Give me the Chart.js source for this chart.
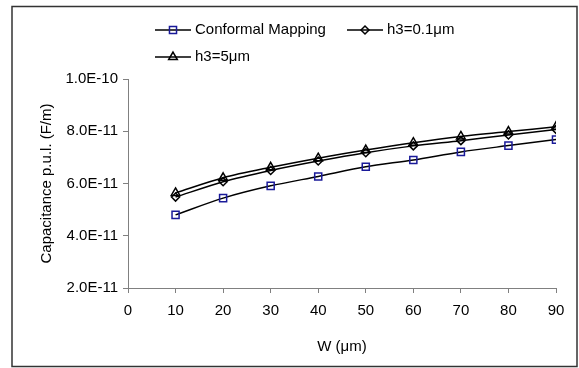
<!DOCTYPE html>
<html>
<head>
<meta charset="utf-8">
<script src="https://cdn.jsdelivr.net/npm/chart.js@4.4.0/dist/chart.umd.min.js"></script>
<style>
  html, body { margin: 0; padding: 0; background: #fff; }
</style>
</head>
<body>
<canvas id="capChart" width="579" height="368"></canvas>
<script>
// W (um)
const widths = [10, 20, 30, 40, 50, 60, 70, 80, 90];
// capacitance per unit length, in units of 1e-11 F/m
const conformal = [4.80, 5.44, 5.91, 6.27, 6.64, 6.90, 7.21, 7.45, 7.68];
const h3Thin = [5.48, 6.07, 6.50, 6.86, 7.18, 7.44, 7.64, 7.86, 8.07];
const h3Thick = [5.64, 6.22, 6.62, 6.97, 7.28, 7.56, 7.80, 7.99, 8.17];

const xTickValues = [0, 10, 20, 30, 40, 50, 60, 70, 80, 90];
const yTickValues = [2e-11, 4e-11, 6e-11, 8e-11, 1e-10];

const toPoints = arr => arr.map((v, i) => ({ x: widths[i], y: v * 1e-11 }));

Chart.defaults.font.family = '"Liberation Sans", Arial, sans-serif';
Chart.defaults.font.size = 15;
Chart.defaults.color = '#000';

// outer frame + Excel-like legend (line with marker in the middle)
const frameLegend = {
  id: 'frameLegend',
  afterDraw(chart) {
    const ctx = chart.ctx;
    ctx.save();
    ctx.strokeStyle = '#333';
    ctx.lineWidth = 1.5;
    ctx.strokeRect(12, 6.5, 565, 360);

    const spots = [[155, 30], [347, 30], [155, 57]];
    chart.data.datasets.forEach((ds, i) => {
      const [x, y] = spots[i];
      ctx.strokeStyle = '#000';
      ctx.lineWidth = 1.5;
      ctx.beginPath();
      ctx.moveTo(x, y);
      ctx.lineTo(x + 36, y);
      ctx.stroke();
      ctx.strokeStyle = ds.pointBorderColor;
      ctx.fillStyle = 'rgba(0,0,0,0)';
      Chart.helpers.drawPoint(ctx, {
        pointStyle: ds.pointStyle, radius: ds.pointRadius, borderWidth: 1.5, rotation: 0
      }, x + 18, y);
      ctx.fillStyle = '#000';
      ctx.font = '15px "Liberation Sans", Arial, sans-serif';
      ctx.textBaseline = 'middle';
      ctx.fillText(ds.label, x + 40, y);
    });
    ctx.restore();
  }
};

const ctx = document.getElementById('capChart').getContext('2d');

const capChart = new Chart(ctx, {
  type: 'line',
  data: {
    datasets: [{
      label: 'Conformal Mapping',
      data: toPoints(conformal),
      borderColor: '#000',
      borderWidth: 1.5,
      pointStyle: 'rect',
      pointRadius: 5,
      pointBorderColor: '#1a1a99',
      pointBackgroundColor: 'rgba(0,0,0,0)',
      pointBorderWidth: 1.5,
      tension: 0.3
    }, {
      label: 'h3=0.1μm',
      data: toPoints(h3Thin),
      borderColor: '#000',
      borderWidth: 1.5,
      pointStyle: 'rectRot',
      pointRadius: 4,
      pointBorderColor: '#000',
      pointBackgroundColor: 'rgba(0,0,0,0)',
      pointBorderWidth: 1.5,
      tension: 0.3
    }, {
      label: 'h3=5μm',
      data: toPoints(h3Thick),
      borderColor: '#000',
      borderWidth: 1.5,
      pointStyle: 'triangle',
      pointRadius: 5,
      pointBorderColor: '#000',
      pointBackgroundColor: 'rgba(0,0,0,0)',
      pointBorderWidth: 1.5,
      tension: 0.3
    }]
  },
  options: {
    responsive: false,
    animation: false,
    devicePixelRatio: 1,
    layout: { padding: { left: 0, top: 79, right: 23, bottom: 0 } },
    plugins: {
      legend: { display: false },
      tooltip: { enabled: false }
    },
    scales: {
      x: {
        type: 'linear',
        min: 0,
        max: 90,
        afterBuildTicks: s => { s.ticks = xTickValues.map(v => ({ value: v })); },
        afterFit: s => { s.height = 80; },
        ticks: { padding: 9, maxRotation: 0, autoSkip: false },
        grid: { drawOnChartArea: false, tickLength: 5, color: '#808080' },
        border: { color: '#808080', width: 1 },
        title: { display: true, text: 'W (μm)', padding: { top: 0, bottom: 12 } }
      },
      y: {
        min: 2e-11,
        max: 1e-10,
        afterBuildTicks: s => { s.ticks = yTickValues.map(v => ({ value: v })); },
        afterFit: s => { s.width = 128; },
        ticks: {
          padding: 5,
          callback: v => v.toExponential(1).toUpperCase()
        },
        grid: { drawOnChartArea: false, tickLength: 5, color: '#808080' },
        border: { color: '#808080', width: 1 },
        title: { display: true, text: 'Capacitance p.u.l. (F/m)', padding: { top: 38, bottom: 0 } }
      }
    }
  },
  plugins: [frameLegend]
});
</script>
</body>
</html>
